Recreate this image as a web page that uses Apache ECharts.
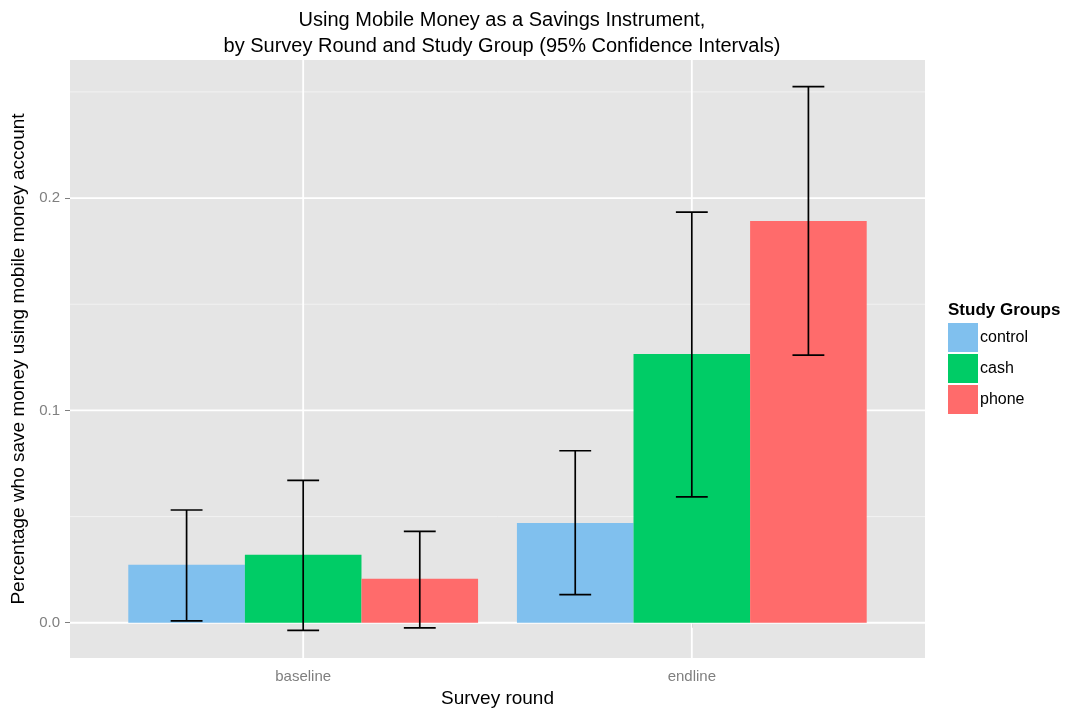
<!DOCTYPE html>
<html>
<head>
<meta charset="utf-8">
<script src="https://cdn.jsdelivr.net/npm/echarts@6/dist/echarts.min.js"></script>
<style>
  html, body { margin: 0; padding: 0; background: #fff; }
  #chart { width: 1065px; height: 709px; }
</style>
</head>
<body>
<div id="chart"></div>
<script>
// survey rounds sit at positions 1 and 2 on the x scale
var rounds = ['baseline', 'endline'];
var groups = ['control', 'cash', 'phone'];

var controlMean = [0.0273, 0.047];
var controlLow = [0.0009, 0.0132];
var controlHigh = [0.0531, 0.081];

var cashMean = [0.032, 0.1266];
var cashLow = [-0.0036, 0.0593];
var cashHigh = [0.067, 0.1934];

var phoneMean = [0.0207, 0.1892];
var phoneLow = [-0.0024, 0.126];
var phoneHigh = [0.043, 0.2525];

var yTicks = [0, 0.1, 0.2];
var yMinor = [0.05, 0.15, 0.25];
var xTicks = [1, 2];

var colors = ['#80c0ee', '#00cc66', '#ff6b6b'];
var font = '"Liberation Sans", Arial, sans-serif';

var chart = echarts.init(document.getElementById('chart'));

function makeData(mean, low, high) {
    return rounds.map(function (r, i) {
        return [i + 1, mean[i], low[i], high[i]];
    });
}

var barW = 0.3;   // dodge width per group
var capW = 0.041;

function barSeries(name, idx, mean, low, high) {
    var offset = (idx - 1) * barW;
    return {
        name: name,
        type: 'custom',
        itemStyle: { color: colors[idx] },
        z: 3,
        data: makeData(mean, low, high),
        renderItem: function (params, api) {
            var x = api.value(0) + offset;
            var p0 = api.coord([x - barW / 2, 0]);
            var p1 = api.coord([x + barW / 2, api.value(1)]);
            var lo = api.coord([x, api.value(2)]);
            var hi = api.coord([x, api.value(3)]);
            var cl = api.coord([x - capW, 0])[0];
            var cr = api.coord([x + capW, 0])[0];
            var lineStyle = { stroke: '#000', lineWidth: 1.7 };
            return {
                type: 'group',
                children: [
                    { type: 'rect', shape: { x: p0[0], y: p1[1], width: p1[0] - p0[0], height: p0[1] - p1[1] }, style: { fill: colors[idx] } },
                    { type: 'line', shape: { x1: lo[0], y1: lo[1], x2: hi[0], y2: hi[1] }, style: lineStyle },
                    { type: 'line', shape: { x1: cl, y1: lo[1], x2: cr, y2: lo[1] }, style: lineStyle },
                    { type: 'line', shape: { x1: cl, y1: hi[1], x2: cr, y2: hi[1] }, style: lineStyle }
                ]
            };
        }
    };
}

// panel grid lines (ggplot style)
var gridSeries = {
    type: 'custom',
    silent: true,
    z: 1,
    data: yTicks.map(function (v) { return [v, 1]; })
        .concat(yMinor.map(function (v) { return [v, 0]; }))
        .concat(xTicks.map(function (v) { return [v, 2]; })),
    renderItem: function (params, api) {
        var v = api.value(0), kind = api.value(1);
        var a, b;
        if (kind === 2) {
            a = api.coord([v, -0.0166]);
            b = api.coord([v, 0.265]);
        } else {
            a = api.coord([0.4, v]);
            b = api.coord([2.6, v]);
        }
        return {
            type: 'line',
            shape: { x1: a[0], y1: a[1], x2: b[0], y2: b[1] },
            style: { stroke: kind === 0 ? '#f2f2f2' : '#ffffff', lineWidth: kind === 0 ? 1 : 1.8 }
        };
    }
};

var option = {
    backgroundColor: '#ffffff',
    animation: false,
    textStyle: { fontFamily: font },
    title: {
        text: 'Using Mobile Money as a Savings Instrument,\nby Survey Round and Study Group (95% Confidence Intervals)',
        left: 497,
        textAlign: 'center',
        top: 2,
        textStyle: { fontSize: 20, fontWeight: 'normal', color: '#000', lineHeight: 26, fontFamily: font }
    },
    legend: {
        data: groups,
        orient: 'vertical',
        left: 948,
        top: 323,
        padding: 0,
        icon: 'rect',
        itemWidth: 30,
        itemHeight: 29,
        itemGap: 2,
        textStyle: { fontSize: 16, color: '#000', padding: [0, 0, 0, -3] }
    },
    graphic: [{
        type: 'text',
        left: 948,
        top: 302,
        style: { text: 'Study Groups', font: 'bold 17px ' + font, fill: '#000' }
    }],
    grid: {
        left: 70, right: 140, top: 60, bottom: 51,
        outerBoundsMode: 'none',
        show: true, backgroundColor: '#e5e5e5', borderWidth: 0
    },
    xAxis: {
        type: 'value',
        min: 0.4,
        max: 2.6,
        name: 'Survey round',
        nameLocation: 'middle',
        nameGap: 31,
        nameTextStyle: { fontSize: 19, color: '#000' },
        axisLine: { show: false },
        splitLine: { show: false },
        axisTick: { show: true, customValues: xTicks, length: 5, lineStyle: { color: '#7f7f7f' } },
        axisLabel: {
            customValues: xTicks,
            margin: 11,
            fontSize: 15,
            color: '#7f7f7f',
            formatter: function (v) { return rounds[Math.round(v) - 1] || ''; }
        }
    },
    yAxis: {
        type: 'value',
        min: -0.0166,
        max: 0.265,
        name: 'Percentage who save money using mobile money account',
        nameLocation: 'middle',
        nameGap: 40,
        nameTextStyle: { fontSize: 19, color: '#000' },
        axisLine: { show: false },
        splitLine: { show: false },
        axisTick: { show: true, customValues: yTicks, length: 5, lineStyle: { color: '#7f7f7f' } },
        axisLabel: {
            customValues: yTicks,
            margin: 10,
            fontSize: 15,
            color: '#7f7f7f',
            formatter: function (v) { return v.toFixed(1); }
        }
    },
    series: [
        gridSeries,
        barSeries('control', 0, controlMean, controlLow, controlHigh),
        barSeries('cash', 1, cashMean, cashLow, cashHigh),
        barSeries('phone', 2, phoneMean, phoneLow, phoneHigh)
    ]
};

chart.setOption(option);
</script>
</body>
</html>
